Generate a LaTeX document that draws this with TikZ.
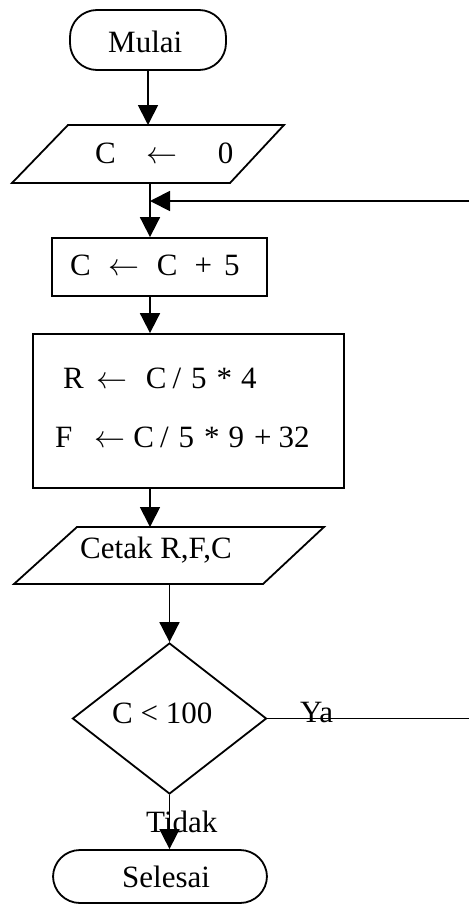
\documentclass[tikz,border=0pt]{standalone}
\usepackage{fix-cm}
\usepackage{fontspec}
\setmainfont{Liberation Serif}
\usetikzlibrary{arrows.meta,shapes.geometric}
\newcommand{\la}{$\leftarrow$}
\begin{document}
\begin{tikzpicture}[x=1pt,y=-1pt,
  every node/.style={font=\fontsize{31pt}{36pt}\selectfont},
  box/.style={draw,line width=1.8pt,inner sep=0pt,rectangle},
  term/.style={box,rounded corners=27pt},
  decision/.style={draw,line width=1.8pt,inner sep=0pt,diamond},
  txt/.style={inner sep=0pt,anchor=base west},
  arr/.style={line width=1.8pt,-{Triangle[width=20pt,length=20pt]}},
  ln/.style={line width=1.8pt,line join=miter}]
\useasboundingbox (0,0) rectangle (469,905);
% shapes
\node[term,minimum width=156pt,minimum height=60pt] (start) at (148,40) {};
\coordinate (in1bl) at (12,183);
\coordinate (in1tl) at (68,125);
\coordinate (in1tr) at (284,125);
\coordinate (in1br) at (230,183);
\draw[ln] (in1bl) -- (in1tl) -- (in1tr) -- (in1br) -- cycle;
\node[box,minimum width=215pt,minimum height=58pt] (p1) at (159.5,267) {};
\node[box,minimum width=311pt,minimum height=154pt] (p2) at (188.5,411) {};
\coordinate (outbl) at (14,584);
\coordinate (outtl) at (77,527);
\coordinate (outtr) at (324,527);
\coordinate (outbr) at (263,584);
\draw[ln] (outbl) -- (outtl) -- (outtr) -- (outbr) -- cycle;
\node[decision,minimum width=194pt,minimum height=151pt] (dec) at (169.5,718.5) {};
\node[term,minimum width=214pt,minimum height=53pt] (end) at (160,876.5) {};
% texts
\node[txt] (tmulai) at (108,52) {Mulai};
\node[txt] (tin1) at (95,163) {C\hspace{31pt}\la\hspace{40pt}0};
\node[txt] (tp1) at (70,275) {C\hspace{18pt}\la\hspace{17pt}C\hspace{17pt}+\hspace{12pt}5};
\node[txt] (tp2a) at (63,388) {R\hspace{13pt}\la\hspace{18pt}C\hspace{6pt}/\hspace{10pt}5\hspace{10pt}*\hspace{9pt}4};
\node[txt] (tp2b) at (55,447) {F\hspace{22pt}\la\hspace{8pt}C\hspace{6pt}/\hspace{10pt}5\hspace{10pt}*\hspace{9pt}9\hspace{10pt}+\hspace{7pt}32};
\node[txt] (tout) at (80,558) {Cetak R,F,C};
\node[txt] (tdec) at (112,723) {C < 100};
\node[txt] (tsel) at (122,887) {Selesai};
% connectors
\coordinate (join) at (150,201);
\coordinate (loopin) at (469,201);
\coordinate (yesout) at (469,718.5);
\draw[arr] (start.south) -- (start.south |- in1tl);
\draw[arr] (join |- in1bl) -- (join |- p1.north);
\draw[arr] (loopin) -- (join);
\draw[arr] (join |- p1.south) -- (join |- p2.north);
\draw[arr] (join |- p2.south) -- (join |- outtl);
\draw[arr] (dec.north |- outbl) -- (dec.north);
\draw[arr] (dec.south) -- (dec.south |- end.north);
\draw[ln] (dec.east) -- (yesout);
\node[txt] (ya) at (300,722) {Ya};
\node[txt] (tidak) at (146,832) {Tidak};
\end{tikzpicture}
\end{document}
